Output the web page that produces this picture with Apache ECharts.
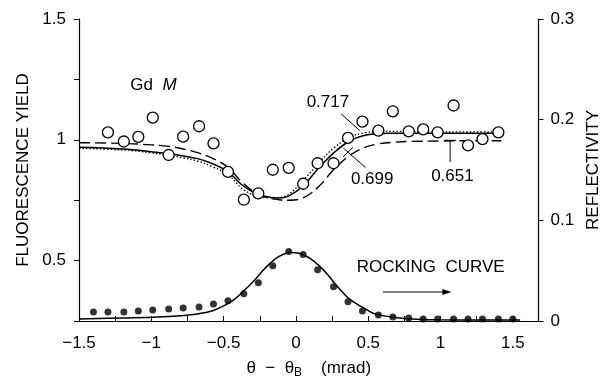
<!DOCTYPE html>
<html>
<head>
<meta charset="utf-8">
<script src="https://cdn.jsdelivr.net/npm/echarts@6/dist/echarts.min.js"></script>
<style>
html,body{margin:0;padding:0;background:#fff;}
#c{width:610px;height:384px;}
</style>
</head>
<body>
<div id="c"></div>
<script>
// ---- data ----
const fluorX = [-1.30,-1.19,-1.09,-0.99,-0.88,-0.78,-0.67,-0.57,-0.47,-0.36,-0.26,-0.16,-0.05,0.05,0.15,0.26,0.36,0.46,0.57,0.67,0.78,0.88,0.98,1.09,1.19,1.29,1.40];
const fluorY = [1.031,0.993,1.012,1.092,0.937,1.013,1.056,0.985,0.867,0.752,0.778,0.876,0.884,0.818,0.903,0.903,1.008,1.075,1.038,1.118,1.035,1.043,1.031,1.142,0.977,1.003,1.031];

const curveX    = [-1.5,-1.2,-1.0,-0.88,-0.78,-0.68,-0.58,-0.47,-0.37,-0.27,-0.18,-0.12,-0.05,0.05,0.16,0.26,0.37,0.47,0.57,0.68,0.78,1.0,1.2,1.42];
const solid699  = [0.969,0.962,0.951,0.942,0.933,0.922,0.902,0.868,0.812,0.776,0.762,0.759,0.767,0.81,0.885,0.945,0.995,1.018,1.026,1.027,1.027,1.027,1.027,1.027];
const dotted717 = [0.965,0.958,0.946,0.935,0.925,0.912,0.889,0.856,0.797,0.767,0.760,0.761,0.774,0.832,0.905,0.965,1.010,1.029,1.034,1.035,1.034,1.033,1.033,1.033];
const dashed651 = [0.988,0.985,0.979,0.973,0.962,0.947,0.924,0.886,0.823,0.777,0.758,0.752,0.750,0.760,0.808,0.876,0.934,0.967,0.983,0.990,0.993,0.995,0.996,0.996];

const rockX = [-1.40,-1.30,-1.19,-1.09,-0.99,-0.88,-0.78,-0.67,-0.57,-0.47,-0.36,-0.26,-0.16,-0.05,0.05,0.15,0.26,0.36,0.46,0.57,0.67,0.78,0.88,0.98,1.09,1.19,1.29,1.40,1.50];
const rockY = [0.009,0.009,0.009,0.010,0.011,0.012,0.013,0.014,0.017,0.020,0.027,0.038,0.055,0.069,0.066,0.051,0.034,0.019,0.010,0.006,0.004,0.003,0.002,0.002,0.002,0.002,0.002,0.002,0.002];

const rockCurveX = [-1.5,-1.2,-0.95,-0.8,-0.68,-0.58,-0.5,-0.43,-0.36,-0.29,-0.23,-0.18,-0.14,-0.09,-0.045,0,0.045,0.1,0.16,0.22,0.27,0.32,0.36,0.42,0.48,0.53,0.59,0.67,0.75,0.86,1.0,1.2,1.55];
const rockCurveY = [0.002,0.003,0.004,0.0053,0.007,0.010,0.015,0.021,0.030,0.040,0.050,0.057,0.062,0.066,0.068,0.0678,0.066,0.062,0.055,0.046,0.037,0.029,0.023,0.017,0.012,0.008,0.0056,0.0038,0.0025,0.0016,0.0012,0.001,0.001];

const xLabels = {'-1.5':'\u22121.5','-1':'\u22121','-0.5':'\u22120.5','0':'0','0.5':'0.5','1':'1','1.5':'1.5'};
const leftLabels = ['0.5','1','1.5'];
const rightLabels = ['0','0.1','0.2','0.3'];

const zip = (xs, ys) => xs.map((x, i) => [x, ys[i]]);
const FONT = 'Liberation Sans, Arial, Helvetica, sans-serif';
const key = v => String(Math.round(v * 1000) / 1000);

const chart = echarts.init(document.getElementById('c'), null, {renderer: 'canvas'});
const axisLineStyle = {show: true, onZero: false, lineStyle: {color: '#000', width: 1.2}};
const option = {
  animation: false,
  backgroundColor: '#fff',
  textStyle: {fontFamily: FONT, color: '#000'},
  grid: {left: 79, right: 64, top: 19, bottom: 48, containLabel: false},
  xAxis: {
    type: 'value', min: -1.5, max: 1.677, interval: 0.25,
    axisLine: axisLineStyle,
    axisTick: {show: true, inside: true, length: 5, lineStyle: {color: '#000', width: 1}},
    splitLine: {show: false},
    axisLabel: {
      margin: 14, fontSize: 17, color: '#000', fontFamily: FONT,
      showMaxLabel: false,
      formatter: v => xLabels[key(v)] || ''
    },
    name: '{t|\u03b8  \u2212  \u03b8}{s|B}{t|    (mrad)}',
    nameLocation: 'middle', nameGap: 37,
    nameTextStyle: {rich: {
      t: {fontSize: 17, fontFamily: FONT, color: '#000'},
      s: {fontSize: 12, fontFamily: FONT, color: '#000', verticalAlign: 'bottom', padding: [9, 0, 0, 0]}
    }}
  },
  yAxis: [{
    type: 'value', min: 0.25, max: 1.5, interval: 0.25, position: 'left',
    axisLine: axisLineStyle,
    axisTick: {show: true, inside: false, length: 5, lineStyle: {color: '#000', width: 1}},
    splitLine: {show: false},
    axisLabel: {margin: 13, fontSize: 17, color: '#000', fontFamily: FONT,
      formatter: v => leftLabels.includes(key(v)) ? key(v) : ''},
    name: 'FLUORESCENCE YIELD', nameLocation: 'middle', nameRotate: 90, nameGap: 46,
    nameTextStyle: {fontSize: 17, fontFamily: FONT, color: '#000'}
  }, {
    type: 'value', min: 0, max: 0.3, interval: 0.1, position: 'right',
    axisLine: axisLineStyle,
    axisTick: {show: true, inside: false, length: 5, lineStyle: {color: '#000', width: 1}},
    splitLine: {show: false},
    axisLabel: {margin: 12, fontSize: 17, color: '#000', fontFamily: FONT,
      formatter: v => rightLabels.includes(key(v)) ? key(v) : ''},
    name: 'REFLECTIVITY', nameLocation: 'middle', nameRotate: 90, nameGap: 46,
    nameTextStyle: {fontSize: 17, fontFamily: FONT, color: '#000'}
  }],
  series: [
    {name: '0.699', type: 'line', yAxisIndex: 0, data: zip(curveX, solid699), smooth: 0.4,
     showSymbol: false, lineStyle: {color: '#000', width: 1.5, type: 'solid'}, z: 2},
    {name: '0.717', type: 'line', yAxisIndex: 0, data: zip(curveX, dotted717), smooth: 0.4,
     showSymbol: false, lineStyle: {color: '#000', width: 1.3, type: [1.5, 2]}, z: 2},
    {name: '0.651', type: 'line', yAxisIndex: 0, data: zip(curveX, dashed651), smooth: 0.4,
     showSymbol: false, lineStyle: {color: '#000', width: 1.4, type: [11, 5]}, z: 2},
    {name: 'Gd M', type: 'scatter', yAxisIndex: 0, data: zip(fluorX, fluorY),
     symbol: 'circle', symbolSize: 11,
     itemStyle: {color: '#fff', borderColor: '#000', borderWidth: 1.3, opacity: 1}, z: 4},
    {name: 'fit', type: 'line', yAxisIndex: 1, data: zip(rockCurveX, rockCurveY), smooth: 0.4,
     showSymbol: false, lineStyle: {color: '#000', width: 1.5}, z: 2},
    {name: 'rocking', type: 'scatter', yAxisIndex: 1, data: zip(rockX, rockY),
     symbol: 'circle', symbolSize: 7, itemStyle: {color: '#000'}, z: 4}
  ]
};
chart.setOption(option);

// annotations (positioned in data space, converted to pixels)
const P = (x, y) => chart.convertToPixel({xAxisIndex: 0, yAxisIndex: 0}, [x, y]);
const seg = (a, b) => ({type: 'line', shape: {x1: a[0], y1: a[1], x2: b[0], y2: b[1]},
  style: {stroke: '#000', lineWidth: 1}, z: 10});
const txt = (p, s, align) => ({type: 'text', x: p[0], y: p[1],
  style: {text: s, font: '17px ' + FONT, fill: '#000', align: align || 'center', verticalAlign: 'middle'}, z: 10});

const a1 = P(0.313, 1.107), a2 = P(0.442, 1.038);
const b1 = P(0.329, 0.965), b2 = P(0.481, 0.885);
const c1 = P(1.066, 0.998), c2 = P(1.066, 0.908);
const bc = P(0.36, 0.949);
const arrowY = P(0, 0.37)[1];
const arrowL = P(0.60, 0)[0], arrowR = P(1.075, 0)[0];
const gd = P(-1.145, 1.225);

chart.setOption({graphic: [
  seg(a1, a2),
  seg(b1, b2),
  seg([bc[0] - 5, bc[1] + 5], [bc[0] + 5, bc[1] - 5]),
  seg(c1, c2),
  seg([c1[0] - 6, c1[1]], [c1[0] + 6, c1[1]]),
  txt(P(0.221, 1.155), '0.717'),
  txt(P(0.527, 0.835), '0.699'),
  txt(P(1.082, 0.85), '0.651'),
  {type: 'text', x: gd[0], y: gd[1], z: 10,
   style: {text: '{a|Gd  }{b|M}', verticalAlign: 'middle', align: 'left',
     rich: {a: {font: '17px ' + FONT, fill: '#000'}, b: {font: 'italic 17px ' + FONT, fill: '#000'}}}},
  txt(P(0.42, 0.471), 'ROCKING  CURVE', 'left'),
  seg([arrowL, arrowY], [arrowR - 6, arrowY]),
  {type: 'polygon', z: 10, shape: {points: [[arrowR, arrowY], [arrowR - 9, arrowY - 3], [arrowR - 9, arrowY + 3]]},
   style: {fill: '#000'}}
]});
</script>
</body>
</html>
